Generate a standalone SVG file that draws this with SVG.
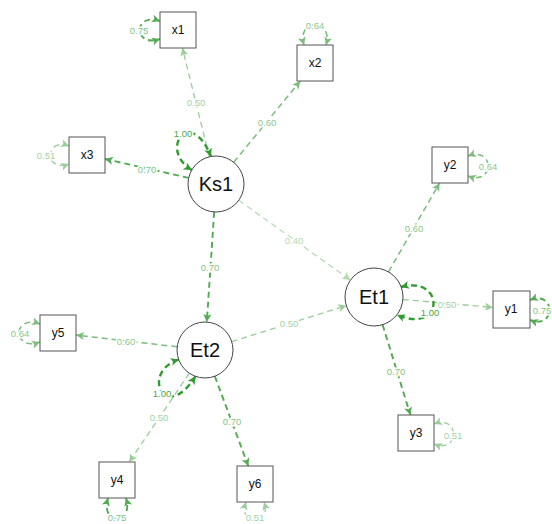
<svg xmlns="http://www.w3.org/2000/svg" width="552" height="524" viewBox="0 0 552 524">
  <style>
    .box { fill: #fff; stroke: #555; stroke-width: 1; }
    .lat { fill: #fff; stroke: #444; stroke-width: 1; }
    .mtxt { font-family: "Liberation Sans", Arial, sans-serif; font-size: 12px; fill: #111; text-anchor: middle; }
    .ltxt { font-family: "Liberation Sans", Arial, sans-serif; font-size: 20px; fill: #111; text-anchor: middle; }
    .e { fill: none; stroke-dasharray: 6 4; }
    .v100 { stroke: #2e9c2e; stroke-width: 2.4; }
    .v70 { stroke: #52aa52; stroke-width: 1.9; }
    .v60 { stroke: #7bbd7b; stroke-width: 1.5; }
    .v50 { stroke: #9bcd9b; stroke-width: 1.3; }
    .v40 { stroke: #b3d9b3; stroke-width: 1.2; }
    .lab { font-family: "Liberation Sans", Arial, sans-serif; font-size: 9.5px; text-anchor: middle; dominant-baseline: central; stroke: #fff; stroke-width: 3; paint-order: stroke; }
    .l100 { fill: #4aa64a; }
    .l70 { fill: #82c482; }
    .l60 { fill: #8bc88b; }
    .l50 { fill: #a2d2a2; }
    .l40 { fill: #b2d9b2; }
  </style>
  <defs>
    <marker id="a100" markerUnits="userSpaceOnUse" markerWidth="9" markerHeight="9" refX="8" refY="4" orient="auto-start-reverse"><path d="M0,0 L8,4 L0,8 L2,4 z" fill="#2e9c2e"/></marker>
    <marker id="a70" markerUnits="userSpaceOnUse" markerWidth="9" markerHeight="9" refX="8" refY="4" orient="auto-start-reverse"><path d="M0,0 L8,4 L0,8 L2,4 z" fill="#52aa52"/></marker>
    <marker id="a60" markerUnits="userSpaceOnUse" markerWidth="9" markerHeight="9" refX="8" refY="4" orient="auto-start-reverse"><path d="M0,0 L8,4 L0,8 L2,4 z" fill="#7bbd7b"/></marker>
    <marker id="a50" markerUnits="userSpaceOnUse" markerWidth="9" markerHeight="9" refX="8" refY="4" orient="auto-start-reverse"><path d="M0,0 L8,4 L0,8 L2,4 z" fill="#9bcd9b"/></marker>
    <marker id="a40" markerUnits="userSpaceOnUse" markerWidth="9" markerHeight="9" refX="8" refY="4" orient="auto-start-reverse"><path d="M0,0 L8,4 L0,8 L2,4 z" fill="#b3d9b3"/></marker>
  </defs>

  <!-- paths and variances -->
  <g id="connectors">
    <!-- loadings and structural paths -->
    <path class="e v50" d="M209.3,156.8 L182.4,48" marker-end="url(#a50)"/>
    <path class="e v60" d="M233.7,162.3 L300.3,81" marker-end="url(#a60)"/>
    <path class="e v70" d="M188.7,177.9 L105,159" marker-end="url(#a70)"/>
    <path class="e v40" d="M238.8,200.3 L350.4,280.1" marker-end="url(#a40)"/>
    <path class="e v70" d="M214.2,211.9 L206.8,322.1" marker-end="url(#a70)"/>
    <path class="e v60" d="M388.5,271.9 L439.6,183" marker-end="url(#a60)"/>
    <path class="e v50" d="M402.9,299.5 L493,307.4" marker-end="url(#a50)"/>
    <path class="e v70" d="M382.6,324.7 L410.4,415" marker-end="url(#a70)"/>
    <path class="e v50" d="M231.7,341.6 L346.3,305.7" marker-end="url(#a50)"/>
    <path class="e v60" d="M177.2,346.8 L76,335.1" marker-end="url(#a60)"/>
    <path class="e v50" d="M189.3,373.2 L129.2,462" marker-end="url(#a50)"/>
    <path class="e v70" d="M214.8,376.2 L248.3,466" marker-end="url(#a70)"/>

    <!-- variances -->
    <path class="e v70" d="M160,21 C 133,12 133,48 160,39" marker-start="url(#a70)" marker-end="url(#a70)"/>
    <path class="e v60" d="M304,45 C 296,18 334,18 326,45" marker-start="url(#a60)" marker-end="url(#a60)"/>
    <path class="e v50" d="M69,146 C 44,137 44,173 69,164" marker-start="url(#a50)" marker-end="url(#a50)"/>
    <path class="e v60" d="M468,156 C 495,146 495,186 468,176" marker-start="url(#a60)" marker-end="url(#a60)"/>
    <path class="e v70" d="M530,300 C 556,290 556,330 530,320" marker-start="url(#a70)" marker-end="url(#a70)"/>
    <path class="e v50" d="M434,424 C 460,414 460,454 434,444" marker-start="url(#a50)" marker-end="url(#a50)"/>
    <path class="e v60" d="M40,324 C 12,314 12,352 40,342" marker-start="url(#a60)" marker-end="url(#a60)"/>
    <path class="e v70" d="M108,498 C 100,526 134,526 126,498" marker-start="url(#a70)" marker-end="url(#a70)"/>
    <path class="e v50" d="M246,502 C 238,528 272,528 264,502" marker-start="url(#a50)" marker-end="url(#a50)"/>
    <path class="e v100" d="M191.8,170 C 158,150 190,105 211,156.4" marker-start="url(#a100)" marker-end="url(#a100)"/>
    <path class="e v100" d="M401,287 C 445,275 445,335 397,315" marker-start="url(#a100)" marker-end="url(#a100)"/>
    <path class="e v100" d="M178.7,359.6 C 140,372 165,425 195.4,376.3" marker-start="url(#a100)" marker-end="url(#a100)"/>

    <!-- values -->
    <text class="lab l50" x="196" y="102">0.50</text>
    <text class="lab l60" x="267" y="122">0.60</text>
    <text class="lab l70" x="147" y="169">0.70</text>
    <text class="lab l40" x="294" y="240">0.40</text>
    <text class="lab l70" x="210" y="267">0.70</text>
    <text class="lab l60" x="414" y="228">0.60</text>
    <text class="lab l50" x="447" y="304">0.50</text>
    <text class="lab l70" x="396" y="371">0.70</text>
    <text class="lab l50" x="289" y="323">0.50</text>
    <text class="lab l60" x="126" y="341">0.60</text>
    <text class="lab l50" x="159" y="417">0.50</text>
    <text class="lab l70" x="232" y="421">0.70</text>

    <text class="lab l70" x="139" y="30">0.75</text>
    <text class="lab l60" x="315" y="25">0.64</text>
    <text class="lab l50" x="46" y="155">0.51</text>
    <text class="lab l60" x="488" y="166">0.64</text>
    <text class="lab l70" x="542" y="310">0.75</text>
    <text class="lab l50" x="453" y="435">0.51</text>
    <text class="lab l60" x="20" y="333">0.64</text>
    <text class="lab l70" x="117" y="517">0.75</text>
    <text class="lab l50" x="255" y="517">0.51</text>
    <text class="lab l100" x="183" y="133">1.00</text>
    <text class="lab l100" x="430" y="312">1.00</text>
    <text class="lab l100" x="162" y="393">1.00</text>
  </g>

  <!-- manifest variables -->
  <g id="x1"><rect class="box" x="160" y="12" width="36" height="36"/><text class="mtxt" x="178" y="34">x1</text></g>
  <g id="x2"><rect class="box" x="297" y="45" width="36" height="36"/><text class="mtxt" x="315" y="67">x2</text></g>
  <g id="x3"><rect class="box" x="69" y="137" width="36" height="36"/><text class="mtxt" x="87" y="159">x3</text></g>
  <g id="y2"><rect class="box" x="432" y="147" width="36" height="36"/><text class="mtxt" x="450" y="169">y2</text></g>
  <g id="y1"><rect class="box" x="493" y="291" width="37" height="37"/><text class="mtxt" x="511" y="313">y1</text></g>
  <g id="y3"><rect class="box" x="398" y="415" width="36" height="36"/><text class="mtxt" x="416" y="437">y3</text></g>
  <g id="y5"><rect class="box" x="40" y="315" width="36" height="36"/><text class="mtxt" x="58" y="337">y5</text></g>
  <g id="y4"><rect class="box" x="99" y="462" width="36" height="36"/><text class="mtxt" x="117" y="484">y4</text></g>
  <g id="y6"><rect class="box" x="237" y="466" width="36" height="36"/><text class="mtxt" x="255" y="488">y6</text></g>

  <!-- latent variables -->
  <g id="Ks1"><circle class="lat" cx="216" cy="184" r="28"/><text class="ltxt" x="216" y="191">Ks1</text></g>
  <g id="Et1"><circle class="lat" cx="374" cy="297" r="29"/><text class="ltxt" x="374" y="304">Et1</text></g>
  <g id="Et2"><circle class="lat" cx="205" cy="350" r="28"/><text class="ltxt" x="205" y="357">Et2</text></g>
</svg>
